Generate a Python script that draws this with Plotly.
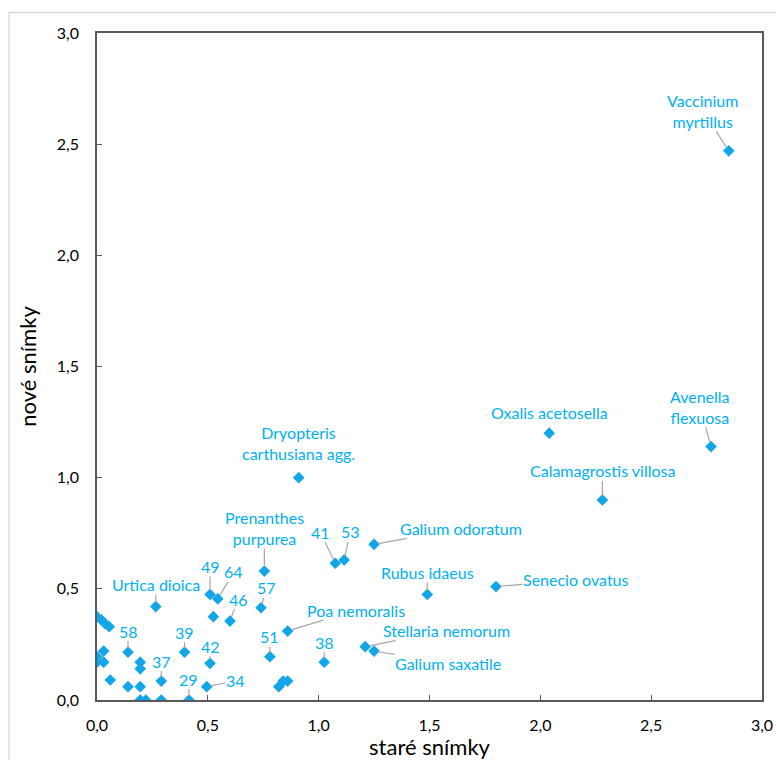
import plotly.graph_objects as go

# ---- data ----
x_old = [2.85, 2.77, 2.04, 2.28, 1.80, 1.49, 1.25, 1.075, 1.115, 1.21, 1.25, 1.025,
         0.86, 0.78, 0.91, 0.755, 0.74, 0.60, 0.525, 0.51, 0.545, 0.51, 0.495, 0.265,
         0.14, 0.395, 0.29, 0.415,
         0.82, 0.84, 0.86,
         0.0, 0.02, 0.035, 0.055,
         0.0, 0.03, 0.0, 0.03,
         0.195, 0.195, 0.06, 0.14, 0.195, 0.195, 0.22, 0.29]
y_new = [2.47, 1.14, 1.20, 0.90, 0.51, 0.475, 0.70, 0.615, 0.63, 0.24, 0.22, 0.17,
         0.31, 0.195, 1.00, 0.58, 0.415, 0.355, 0.375, 0.475, 0.455, 0.165, 0.06, 0.42,
         0.215, 0.215, 0.085, 0.0,
         0.06, 0.085, 0.085,
         0.375, 0.36, 0.345, 0.33,
         0.195, 0.22, 0.17, 0.17,
         0.17, 0.14, 0.09, 0.06, 0.06, 0.0, 0.0, 0.0]
labels = ["Vaccinium<br>myrtillus", "Avenella<br>flexuosa", "Oxalis acetosella",
          "Calamagrostis villosa", "Senecio ovatus", "Rubus idaeus", "Galium odoratum",
          "41", "53", "Stellaria nemorum", "Galium saxatile", "38",
          "Poa nemoralis", "51", "Dryopteris<br>carthusiana agg.", "Prenanthes<br>purpurea",
          "57", "46", "", "49", "64", "42", "34", "Urtica dioica",
          "58", "39", "37", "29"]
# label offsets in pixels (text centre relative to point) and leader-line flag
label_dx = [-26, -11, 0, 0, 80, 0, 87, -15, 6, 81, 74, 0,
            68, 0, 0, 0, 5, 8, 0, 0, 16, 0, 29, 0,
            0, 0, 0, 0]
label_dy = [-40, -40, -21, -29, -7, -22, -16, -31, -28, -16, 12, -20,
            -21, -20, -35, -43, -20, -22, 0, -28, -27, -17, -6, -22,
            -21, -20, -20, -21]
leader = [True, True, False, True, True, True, True, True, True, True, True, True,
          True, True, False, True, True, True, False, True, True, True, True, True,
          True, True, True, True]

tick_vals = [0.0, 0.5, 1.0, 1.5, 2.0, 2.5, 3.0]
tick_text = ["0,0", "0,5", "1,0", "1,5", "2,0", "2,5", "3,0"]

FONT = "Lato"
LABEL_COLOR = "#00B0F0"
MARKER_COLOR = "#12A6E8"
AXIS_COLOR = "#595959"

fig = go.Figure()
fig.add_trace(go.Scatter(
    x=x_old, y=y_new, mode="markers",
    marker=dict(symbol="diamond", size=9, color=MARKER_COLOR, line=dict(width=0)),
    showlegend=False, hoverinfo="x+y",
))

annotations = []
for i, lab in enumerate(labels):
    if not lab:
        continue
    if leader[i]:
        annotations.append(dict(
            x=x_old[i], y=y_new[i], xref="x", yref="y", text=lab,
            showarrow=True, arrowhead=0, arrowwidth=1.2, arrowcolor="#A6A6A6",
            ax=label_dx[i], ay=label_dy[i], standoff=4, startstandoff=0,
            font=dict(family=FONT, size=16, color=LABEL_COLOR), borderpad=0,
        ))
    else:
        annotations.append(dict(
            x=x_old[i], y=y_new[i], xref="x", yref="y", text=lab,
            showarrow=False, xshift=label_dx[i], yshift=-label_dy[i],
            font=dict(family=FONT, size=16, color=LABEL_COLOR), borderpad=0,
        ))

axis_common = dict(
    range=[0, 3.0], tickvals=tick_vals, ticktext=tick_text,
    showgrid=False, zeroline=False, showline=True, linecolor=AXIS_COLOR,
    linewidth=1.5, mirror=True, ticks="inside", ticklen=5, tickcolor=AXIS_COLOR,
    tickwidth=1, tickfont=dict(family=FONT, size=16, color="#000000"),
)

fig.update_layout(
    width=776, height=760,
    margin=dict(l=97, r=14, t=33, b=60, autoexpand=False),
    paper_bgcolor="white", plot_bgcolor="white",
    font=dict(family=FONT),
    xaxis=dict(**axis_common, ticklabelstandoff=10,
               title=dict(text="staré snímky", font=dict(family=FONT, size=22, color="#000000"), standoff=6)),
    yaxis=dict(**axis_common, ticklabelstandoff=13,
               title=dict(text="nové snímky", font=dict(family=FONT, size=22, color="#000000"), standoff=14)),
    annotations=annotations,
    shapes=[dict(type="rect", xref="paper", yref="paper",
                 x0=(9 - 97) / 665, x1=1.05, y0=-0.12, y1=(700 - 12.5) / 667,
                 line=dict(color="#D9D9D9", width=1.3), layer="below")],
)

fig.write_html("out.html")
